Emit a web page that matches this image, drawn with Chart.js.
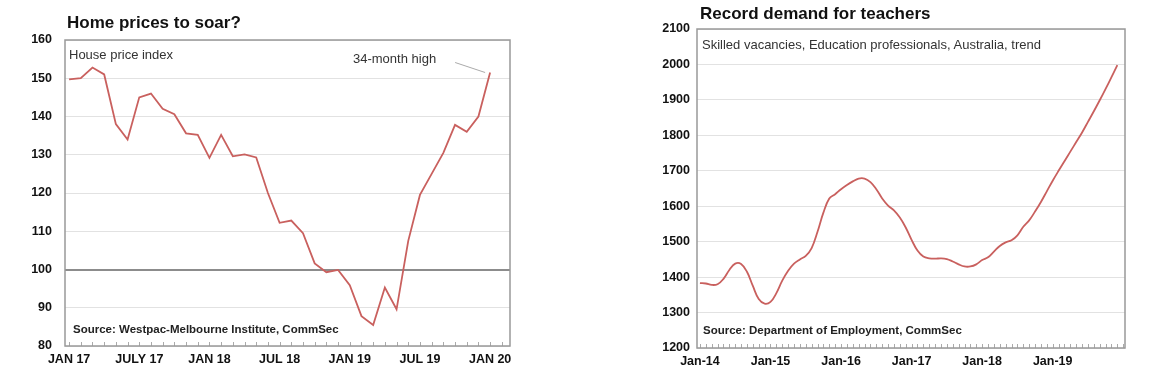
<!DOCTYPE html>
<html><head><meta charset="utf-8">
<script src="https://cdn.jsdelivr.net/npm/chart.js@4.4.1/dist/chart.umd.min.js"></script>
<style>
html,body{margin:0;padding:0;background:#fff;width:1160px;height:380px;overflow:hidden;font-family:"Liberation Sans",Arial,sans-serif;}
.wrap{position:absolute;top:0;height:380px;}
canvas{position:absolute;left:0;top:0;}
.t{position:absolute;white-space:nowrap;line-height:1;}
.title{font-weight:bold;font-size:17px;color:#111;}
.note{font-size:13px;color:#333;}
.src{font-weight:bold;font-size:11.5px;color:#222;}
</style></head><body>
<div class="wrap" style="left:0;width:540px;">
  <canvas id="c1" width="540" height="380"></canvas>
  <div class="t title" style="left:67px;top:14px">Home prices to soar?</div>
  <div class="t note" style="left:69px;top:48px">House price index</div>
  <div class="t note" style="left:353px;top:52px">34-month high</div>
  <div class="t src" style="left:73px;top:324px">Source: Westpac-Melbourne Institute, CommSec</div>
</div>
<div class="wrap" style="left:640px;width:520px;">
  <canvas id="c2" width="520" height="380"></canvas>
  <div class="t title" style="left:60px;top:5px">Record demand for teachers</div>
  <div class="t note" style="left:62px;top:38px">Skilled vacancies, Education professionals, Australia, trend</div>
  <div class="t src" style="left:63px;top:325px">Source: Department of Employment, CommSec</div>
</div>
<script>
// ---- Data: House price index, monthly Jan 2017 .. Jan 2020
const houseMonths = ['Jan17','Feb17','Mar17','Apr17','May17','Jun17','Jul17','Aug17','Sep17','Oct17','Nov17','Dec17',
  'Jan18','Feb18','Mar18','Apr18','May18','Jun18','Jul18','Aug18','Sep18','Oct18','Nov18','Dec18',
  'Jan19','Feb19','Mar19','Apr19','May19','Jun19','Jul19','Aug19','Sep19','Oct19','Nov19','Dec19','Jan20'];
const housePriceIndex = [149.7,150,152.8,151,138,134,145,146,142,140.6,135.6,135.2,
  129.2,135.2,129.6,130.1,129.3,120,112.2,112.8,109.5,101.6,99.3,99.9,
  95.9,87.8,85.5,95.3,89.6,107.5,119.5,125,130.5,137.8,136,140,151.5];
const houseTickLabels = ['JAN 17','JULY 17','JAN 18','JUL 18','JAN 19','JUL 19','JAN 20'];

// ---- Data: Skilled vacancies, Education professionals, monthly Jan 2014 .. Dec 2019
const vacancyValues = [1383,1382,1378,1380,1395,1420,1438,1437,1415,1375,1338,1325,
  1330,1355,1390,1418,1438,1450,1460,1482,1528,1582,1622,1634,
  1648,1660,1670,1678,1678,1668,1648,1622,1602,1588,1568,1540,
  1505,1475,1458,1453,1452,1453,1451,1444,1436,1430,1430,1436,
  1448,1456,1472,1488,1498,1504,1518,1542,1560,1585,1612,1642,
  1672,1700,1727,1754,1781,1808,1838,1868,1899,1931,1964,1998];
const vacancyTickLabels = ['Jan-14','Jan-15','Jan-16','Jan-17','Jan-18','Jan-19'];

Chart.defaults.font.family = '"Liberation Sans", Arial, sans-serif';
Chart.defaults.color = '#111';

const lineColor = '#c9605e';
const tickFont = {size: 12.5, weight: 'bold'};

const framePlugin = {
  id: 'frame',
  afterDraw(chart, args, opts) {
    const {ctx, chartArea: a, scales} = chart;
    const xs = scales.x;
    ctx.save();
    ctx.strokeStyle = '#aaaaaa';
    ctx.lineWidth = 1;
    ctx.beginPath();
    for (let m = Math.ceil(xs.min); m <= Math.floor(xs.max); m++) {
      const px = Math.round(xs.getPixelForValue(m)) + 0.5;
      ctx.moveTo(px, a.bottom);
      ctx.lineTo(px, a.bottom - 4);
    }
    ctx.stroke();
    ctx.strokeStyle = '#999';
    ctx.lineWidth = 1.5;
    ctx.strokeRect(a.left, a.top, a.right - a.left, a.bottom - a.top);
    if (opts.leader) {
      const meta = chart.getDatasetMeta(0);
      const p = meta.data[meta.data.length - 1];
      ctx.strokeStyle = '#aaa';
      ctx.lineWidth = 1;
      ctx.beginPath();
      ctx.moveTo(p.x - 35, p.y - 10);
      ctx.lineTo(p.x - 5, p.y);
      ctx.stroke();
    }
    ctx.restore();
  }
};

new Chart(document.getElementById('c1'), {
  type: 'line',
  data: {
    datasets: [{
      label: 'House price index',
      data: housePriceIndex.map((v, i) => ({x: i, y: v})),
      borderColor: lineColor, borderWidth: 1.8, pointRadius: 0, tension: 0, fill: false
    }]
  },
  options: {
    responsive: false, animation: false,
    layout: {padding: {top: 40, right: 30, left: 0, bottom: 0}},
    plugins: {legend: {display: false}, tooltip: {enabled: false}, frame: {leader: true}},
    scales: {
      x: {
        type: 'linear', min: -0.35, max: 37.7,
        afterBuildTicks: s => { s.ticks = houseTickLabels.map((l, i) => ({value: i * 6})); },
        ticks: {callback: v => houseTickLabels[Math.round(v / 6)], font: tickFont, color: '#111', padding: 6, maxRotation: 0, autoSkip: false},
        grid: {display: false, drawTicks: false}, border: {display: false},
        afterFit: s => { s.height = 34; }
      },
      y: {
        min: 80, max: 160,
        ticks: {stepSize: 10, callback: v => String(v), font: tickFont, color: '#111', padding: 13},
        grid: {color: c => c.tick && c.tick.value === 100 ? '#8c8c8c' : '#e2e2e2', lineWidth: c => c.tick && c.tick.value === 100 ? 2 : 1, drawTicks: false},
        border: {display: false},
        afterFit: s => { s.width = 65; }
      }
    }
  },
  plugins: [framePlugin]
});

new Chart(document.getElementById('c2'), {
  type: 'line',
  data: {
    datasets: [{
      label: 'Skilled vacancies',
      data: vacancyValues.map((v, i) => ({x: i, y: v})),
      borderColor: lineColor, borderWidth: 1.8, pointRadius: 0, tension: 0.4, fill: false
    }]
  },
  options: {
    responsive: false, animation: false,
    layout: {padding: {top: 29, right: 35, left: 0, bottom: 0}},
    plugins: {legend: {display: false}, tooltip: {enabled: false}, frame: {leader: false}},
    scales: {
      x: {
        type: 'linear', min: -0.5, max: 72.3,
        afterBuildTicks: s => { s.ticks = vacancyTickLabels.map((l, i) => ({value: i * 12})); },
        ticks: {callback: v => vacancyTickLabels[Math.round(v / 12)], font: tickFont, color: '#111', padding: 6, maxRotation: 0, autoSkip: false},
        grid: {display: false, drawTicks: false}, border: {display: false},
        afterFit: s => { s.height = 32; }
      },
      y: {
        min: 1200, max: 2100,
        ticks: {stepSize: 100, callback: v => String(v), font: tickFont, color: '#111', padding: 7},
        grid: {color: '#e2e2e2', lineWidth: 1, drawTicks: false},
        border: {display: false},
        afterFit: s => { s.width = 57; }
      }
    }
  },
  plugins: [framePlugin]
});
</script>
</body></html>
